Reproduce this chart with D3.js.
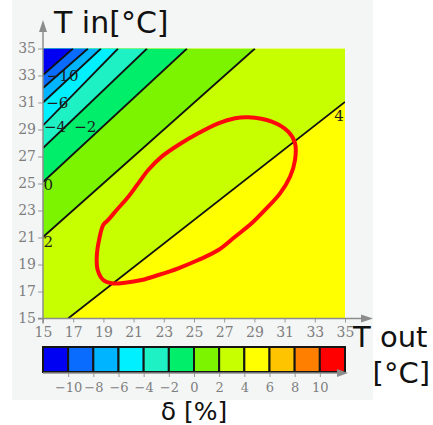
<!DOCTYPE html>
<html>
<head>
<meta charset="utf-8">
<script src="https://cdn.jsdelivr.net/npm/d3@7"></script>
<style>
  html, body { margin: 0; padding: 0; background: #fff; }
  .tick text { font-family: "DejaVu Serif", serif; font-size: 14px; fill: #7e7e7e; }
  .legend-axis .tick text { font-size: 13px; }
  .tick line { stroke: #999; }
  .axis path { display: none; }
  .title { font-family: "DejaVu Sans", sans-serif; fill: #111; }
  .clabel { font-family: "DejaVu Serif", serif; font-size: 15px; fill: #1c1c1c; }
</style>
</head>
<body>
<div id="chart"></div>
<script>
// ── Data ──────────────────────────────────────────────────────
const xTicks = [15, 17, 19, 21, 23, 25, 27, 29, 31, 33, 35];
const yTicks = [15, 17, 19, 21, 23, 25, 27, 29, 31, 33, 35];

// contour lines in (T out, T in), one start and one end point each
const contourLevels = [-10, -8, -6, -4, -2, 0, 2, 4];
const contourStart  = [[15, 33.04], [15, 32.07], [15, 31.0], [15, 29.3], [15, 27.63], [15, 25.11], [15, 21.04], [16.66, 15]];
const contourEnd    = [[16.99, 35], [17.98, 35], [18.84, 35], [19.97, 35], [21.89, 35], [24.54, 35], [29.04, 35], [35, 31.04]];

// labels written on the contour lines
const lineLabels   = ["\u221210", "\u22126", "\u22124", "\u22122", "0", "2", "4"];
const lineLabelPos = [[16.3, 33.0], [15.95, 31.0], [15.8, 29.2], [17.8, 29.2], [15.35, 24.9], [15.35, 20.7], [34.6, 30.0]];

// colour legend
const legendBreaks = [-10, -8, -6, -4, -2, 0, 2, 4, 6, 8, 10];
const legendColors = ["#0000f2", "#0a6cff", "#00b4ff", "#00f0ff", "#1ef2c4", "#00ee6a",
                      "#7cf400", "#c8ff00", "#ffff00", "#ffc400", "#ff8000", "#ff0000"];

// hand-drawn red loop
const loopTout = [28.60, 30.15, 31.24, 31.69, 31.69, 31.36, 30.70, 29.70, 28.82, 27.72, 26.61, 25.28,
                  23.96, 22.64, 21.54, 20.43, 19.55, 18.99, 18.62, 18.56, 18.71, 18.99, 19.32, 19.88,
                  20.65, 21.31, 21.97, 22.86, 23.96, 25.28, 26.61, 27.72];
const loopTin  = [29.90, 29.58, 28.84, 27.98, 26.74, 25.50, 24.27, 23.04, 22.05, 21.06, 20.07, 19.33,
                  18.72, 18.22, 17.85, 17.65, 17.61, 17.85, 18.59, 19.58, 20.81, 21.93, 22.30, 23.04,
                  24.02, 25.01, 26.00, 26.99, 27.85, 28.72, 29.46, 29.83];

// ── Layout ────────────────────────────────────────────────────
const W = 433, H = 425;
const svg = d3.select("#chart").append("svg")
  .attr("width", W).attr("height", H);

svg.append("rect")
  .attr("x", 12).attr("y", 0).attr("width", 361).attr("height", 400)
  .attr("fill", "#f4f6f6");

const x = d3.scaleLinear().domain([15, 35]).range([43, 345]);
const y = d3.scaleLinear().domain([15, 35]).range([318.5, 48.5]);
const c = d3.scaleLinear().domain([-12, 12]).range([43, 345]);

svg.append("defs").append("clipPath").attr("id", "plotClip")
  .append("rect")
    .attr("x", x(15)).attr("y", y(35))
    .attr("width", x(35) - x(15)).attr("height", y(15) - y(35));

// ── Filled bands (clip the plot box to the upper-left of each line) ──
function clipUpperLeft(poly, p, q) {
  const side = r => (q[0] - p[0]) * (r[1] - p[1]) - (q[1] - p[1]) * (r[0] - p[0]);
  const out = [];
  for (let i = 0; i < poly.length; i++) {
    const cur = poly[i], prev = poly[(i + poly.length - 1) % poly.length];
    const sc = side(cur), sp = side(prev);
    const cut = () => {
      const t = sp / (sp - sc);
      return [prev[0] + t * (cur[0] - prev[0]), prev[1] + t * (cur[1] - prev[1])];
    };
    if (sc >= 0) {
      if (sp < 0) out.push(cut());
      out.push(cur);
    } else if (sp >= 0) {
      out.push(cut());
    }
  }
  return out;
}

const box = [[15, 15], [35, 15], [35, 35], [15, 35]];
const gPlot = svg.append("g").attr("clip-path", "url(#plotClip)");
const toPx = pts => pts.map(d => [x(d[0]), y(d[1])]);

// base band: below the highest contour
const topIdx = legendBreaks.indexOf(contourLevels[contourLevels.length - 1]) + 1;
gPlot.append("path")
  .attr("d", d3.line()(toPx(box)) + "Z")
  .attr("fill", legendColors[topIdx]);

for (let i = contourLevels.length - 1; i >= 0; i--) {
  const poly = clipUpperLeft(box, contourStart[i], contourEnd[i]);
  gPlot.append("path")
    .attr("d", d3.line()(toPx(poly)) + "Z")
    .attr("fill", legendColors[legendBreaks.indexOf(contourLevels[i])]);
}

// contour lines
gPlot.selectAll(".cline")
  .data(contourLevels.map((d, i) => [contourStart[i], contourEnd[i]]))
  .join("path")
    .attr("class", "cline")
    .attr("d", d => d3.line()(toPx(d)))
    .attr("stroke", "#111")
    .attr("stroke-width", 1.8)
    .attr("fill", "none");

// contour labels
gPlot.selectAll(".clabel")
  .data(lineLabels)
  .join("text")
    .attr("class", "clabel")
    .attr("x", (d, i) => x(lineLabelPos[i][0]))
    .attr("y", (d, i) => y(lineLabelPos[i][1]))
    .attr("dy", "0.35em")
    .attr("text-anchor", "middle")
    .text(d => d);

// red loop
const loopPts = loopTout.map((t, i) => [x(t), y(loopTin[i])]);
gPlot.append("path")
  .attr("d", d3.line().curve(d3.curveCatmullRomClosed)(loopPts))
  .attr("fill", "none")
  .attr("stroke", "#ff0a0a")
  .attr("stroke-width", 4)
  .attr("stroke-linejoin", "round");

// ── Axes ──────────────────────────────────────────────────────
const axisColor = "#8c8c8c";

svg.append("g")
  .attr("class", "axis")
  .attr("transform", `translate(${x(15)},0)`)
  .call(d3.axisLeft(y).tickValues(yTicks).tickSizeInner(5).tickSizeOuter(0).tickPadding(2));

svg.append("g")
  .attr("class", "axis")
  .attr("transform", `translate(0,${y(15)})`)
  .call(d3.axisBottom(x).tickValues(xTicks).tickSizeInner(4).tickSizeOuter(0).tickPadding(5));

// axis lines with arrows
svg.append("line")
  .attr("x1", x(15)).attr("x2", x(15)).attr("y1", y(15) + 5).attr("y2", 28)
  .attr("stroke", axisColor).attr("stroke-width", 1.5);
svg.append("path")
  .attr("d", `M${x(15)},20 L${x(15) - 4},32 L${x(15) + 4},32 Z`)
  .attr("fill", axisColor);

svg.append("line")
  .attr("x1", x(15) - 5).attr("x2", 365).attr("y1", y(15)).attr("y2", y(15))
  .attr("stroke", axisColor).attr("stroke-width", 1.5);
svg.append("path")
  .attr("d", `M373,${y(15)} L361,${y(15) - 4} L361,${y(15) + 4} Z`)
  .attr("fill", axisColor);

// ── Colour legend ─────────────────────────────────────────────
const legTop = 347, legH = 25;
const cellEdges = [-12].concat(legendBreaks, [12]);

svg.selectAll(".cell")
  .data(legendColors)
  .join("rect")
    .attr("class", "cell")
    .attr("x", (d, i) => c(cellEdges[i]))
    .attr("y", legTop)
    .attr("width", (d, i) => c(cellEdges[i + 1]) - c(cellEdges[i]))
    .attr("height", legH)
    .attr("fill", d => d)
    .attr("stroke", "#151515")
    .attr("stroke-width", 2);

svg.append("g")
  .attr("class", "axis legend-axis")
  .attr("transform", `translate(0,${legTop + legH + 1})`)
  .call(d3.axisBottom(c).tickValues(legendBreaks).tickSizeInner(4).tickSizeOuter(0).tickPadding(6)
    .tickFormat(d => d < 0 ? "\u2212" + Math.abs(d) : d));

svg.append("line")
  .attr("x1", c(-12)).attr("x2", 340).attr("y1", legTop + legH + 1).attr("y2", legTop + legH + 1)
  .attr("stroke", axisColor).attr("stroke-width", 1.5);
svg.append("path")
  .attr("d", `M348,${legTop + legH + 1} L337,${legTop + legH - 3} L337,${legTop + legH + 5} Z`)
  .attr("fill", axisColor);

// ── Titles ────────────────────────────────────────────────────
svg.append("text").attr("class", "title")
  .attr("x", 54).attr("y", 33).attr("font-size", 30)
  .text("T in[°C]");

svg.append("text").attr("class", "title")
  .attr("x", 353).attr("y", 347).attr("font-size", 29)
  .text("T out");

svg.append("text").attr("class", "title")
  .attr("x", 430).attr("y", 383).attr("font-size", 29)
  .attr("text-anchor", "end")
  .text("[°C]");

svg.append("text").attr("class", "title")
  .attr("x", 194).attr("y", 420).attr("font-size", 25)
  .attr("text-anchor", "middle")
  .text("δ [%]");
</script>
</body>
</html>
